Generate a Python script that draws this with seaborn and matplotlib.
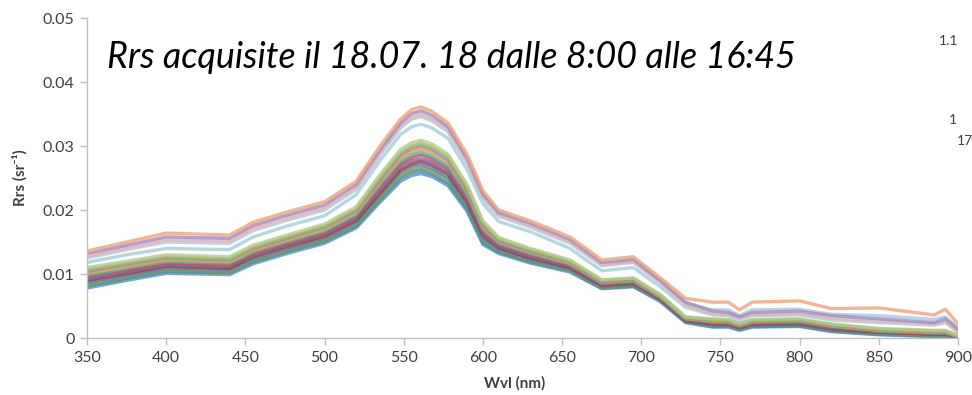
import numpy as np
import pandas as pd
import matplotlib
matplotlib.use("Agg")
import matplotlib.pyplot as plt
import seaborn as sns

# ---- data (Rrs in units of 1e-4 sr^-1) ----
wavelength = [350, 375, 400, 440, 455, 475, 500, 520, 535, 548, 555, 561, 568, 578, 590, 600, 610,
              630, 655, 675, 695, 712, 728, 745, 755, 762, 770, 800, 820, 850, 885, 892, 900]

lower_1 = [110, 120, 130, 127, 145, 160, 178, 205, 255, 295, 305, 309, 303, 287, 240, 183, 157, 140, 122, 91, 94, 68, 33, 30, 29, 23, 29, 30, 22, 15, 12, 12, 4]
lower_2 = [107, 117, 127, 124, 142, 157, 175, 202, 251, 290, 300, 304, 298, 283, 236, 180, 155, 138, 120, 90, 93, 67, 32, 29, 28, 22, 28, 29, 21, 14, 11, 11, 4]
lower_3 = [104, 115, 125, 122, 140, 155, 173, 199, 247, 286, 296, 300, 294, 278, 232, 176, 152, 136, 119, 88, 91, 66, 31, 28, 27, 21, 27, 28, 20, 13, 10, 10, 3]
lower_4 = [101, 112, 122, 119, 137, 152, 170, 196, 243, 281, 291, 295, 289, 274, 229, 173, 150, 134, 117, 87, 90, 65, 31, 26, 26, 20, 26, 27, 19, 12, 9, 9, 3]
lower_5 = [98, 109, 120, 117, 135, 150, 167, 193, 240, 277, 287, 290, 284, 269, 225, 170, 148, 132, 115, 86, 89, 64, 30, 25, 25, 19, 25, 26, 18, 11, 8, 8, 2]
lower_6 = [96, 106, 117, 114, 132, 147, 164, 190, 236, 272, 282, 286, 280, 265, 221, 166, 146, 130, 113, 85, 88, 63, 29, 24, 24, 18, 24, 25, 17, 10, 7, 7, 2]
lower_7 = [93, 104, 114, 112, 129, 144, 162, 187, 231, 268, 277, 280, 275, 260, 217, 163, 143, 127, 112, 83, 86, 62, 28, 23, 22, 17, 22, 23, 15, 10, 7, 7, 2]
lower_8 = [90, 101, 112, 109, 127, 142, 159, 184, 227, 263, 272, 276, 270, 256, 213, 160, 141, 125, 110, 82, 85, 61, 27, 22, 21, 16, 21, 22, 14, 9, 6, 6, 1]
lower_9 = [87, 98, 109, 107, 124, 139, 156, 181, 224, 259, 268, 271, 265, 251, 209, 156, 139, 123, 108, 81, 84, 60, 26, 20, 20, 15, 20, 21, 13, 8, 5, 5, 1]
lower_10 = [84, 96, 106, 104, 121, 136, 153, 178, 220, 254, 263, 266, 261, 247, 206, 153, 137, 121, 106, 79, 82, 59, 26, 19, 19, 14, 19, 20, 12, 7, 4, 4, 1]
lower_11 = [81, 93, 104, 102, 119, 134, 151, 175, 216, 250, 259, 262, 256, 242, 202, 149, 134, 119, 105, 78, 81, 58, 25, 18, 18, 13, 18, 19, 11, 6, 3, 3, 0]
lower_12 = [78, 90, 101, 99, 116, 131, 148, 172, 212, 245, 254, 257, 252, 238, 198, 146, 132, 117, 103, 77, 80, 57, 24, 17, 17, 12, 17, 18, 10, 5, 2, 2, 0]

upper_teal = [118, 130, 140, 138, 158, 174, 191, 224, 277, 318, 330, 334, 328, 312, 263, 210, 182, 166, 140, 105, 110, 80, 48, 36, 35, 28, 35, 36, 28, 24, 20, 24, 9]
upper_lightblue = [125, 138, 150, 148, 168, 183, 200, 232, 286, 328, 342, 346, 339, 322, 273, 218, 190, 173, 148, 113, 118, 86, 54, 44, 44, 35, 44, 45, 37, 35, 29, 33, 16]
upper_pink = [128, 141, 154, 152, 172, 187, 204, 236, 290, 332, 346, 350, 343, 326, 277, 222, 193, 176, 151, 115, 120, 88, 52, 38, 37, 30, 37, 38, 31, 27, 22, 26, 10]
upper_purple = [132, 145, 158, 156, 176, 191, 208, 240, 294, 336, 351, 355, 348, 330, 281, 225, 196, 179, 154, 118, 123, 90, 56, 42, 40, 33, 40, 42, 35, 30, 24, 30, 14]
upper_orange = [136, 150, 164, 161, 181, 196, 213, 245, 300, 342, 357, 361, 354, 336, 287, 230, 200, 183, 158, 122, 127, 94, 62, 56, 56, 44, 56, 58, 46, 47, 36, 45, 22]

series_names = ["lower_12", "lower_11", "lower_10", "lower_9", "lower_8", "lower_7", "lower_6",
                "lower_5", "lower_4", "lower_3", "lower_2", "lower_1",
                "upper_teal", "upper_lightblue", "upper_pink", "upper_purple", "upper_orange"]
series_values = [lower_12, lower_11, lower_10, lower_9, lower_8, lower_7, lower_6,
                 lower_5, lower_4, lower_3, lower_2, lower_1,
                 upper_teal, upper_lightblue, upper_pink, upper_purple, upper_orange]
series_colors = ["#5B8CC6", "#3E8FA0", "#7E9D40", "#4F81BD", "#9F3B38", "#8064A2", "#C0504D",
                 "#4BACC6", "#E9A33A", "#9983B5", "#9BBB59", "#B5CC85",
                 "#A3CFD9", "#AFC6E0", "#E8B0A8", "#9C8CC6", "#F2A27A"]

x_ticks = [350, 400, 450, 500, 550, 600, 650, 700, 750, 800, 850, 900]
y_ticks = [0, 0.01, 0.02, 0.03, 0.04, 0.05]
y_tick_labels = ["0", "0.01", "0.02", "0.03", "0.04", "0.05"]
title_text = "Rrs acquisite il 18.07. 18 dalle 8:00 alle 16:45"

# ---- long table ----
rows = []
for name, vals in zip(series_names, series_values):
    for w, v in zip(wavelength, vals):
        rows.append({"wvl": w, "rrs": v / 1e4, "series": name})
df = pd.DataFrame(rows)

sns.set_style("white")
plt.rcParams["font.family"] = ["Lato", "DejaVu Sans"]

fig = plt.figure(figsize=(9.72, 3.95), dpi=100)
ax = fig.add_axes([87 / 972, 1 - 338 / 395, (958 - 87) / 972, (338 - 18) / 395])

sns.lineplot(data=df, x="wvl", y="rrs", hue="series", hue_order=series_names,
             palette=dict(zip(series_names, series_colors)), legend=False,
             linewidth=2.4, alpha=0.8, estimator=None, ax=ax)
for line in ax.lines:
    line.set_solid_joinstyle("round")

ax.set_xlim(350, 900)
ax.set_ylim(0, 0.05)
ax.set_xticks(x_ticks)
ax.set_yticks(y_ticks)
ax.set_yticklabels(y_tick_labels)
ax.set_xlabel("")
ax.set_ylabel("")
ax.tick_params(axis="both", direction="out", length=5, width=1, color="#BFBFBF",
               labelcolor="#404040", labelsize=11.5, pad=4,
               bottom=True, left=True)
for s in ["top", "right"]:
    ax.spines[s].set_visible(False)
for s in ["left", "bottom"]:
    ax.spines[s].set_color("#BFBFBF")
    ax.spines[s].set_linewidth(1)

fig.text(515 / 972, 1 - 383 / 395, "Wvl (nm)", ha="center", va="center",
         fontsize=11, fontweight="bold", color="#404040")
fig.text(20 / 972, 1 - 178 / 395, "Rrs (sr\u207b\u00b9)", ha="center", va="center",
         rotation=90, fontsize=11, fontweight="bold", color="#404040")

fig.text(107 / 972, 1 - 58 / 395, title_text, ha="left", va="center",
         fontsize=25.8, fontstyle="italic", color="black")

fig.text(949 / 972, 1 - 41 / 395, "1.1", ha="center", va="center", fontsize=10, color="#404040")
fig.text(953 / 972, 1 - 120 / 395, "1", ha="center", va="center", fontsize=10, color="#404040")
fig.text(957 / 972, 1 - 141 / 395, "17", ha="left", va="center", fontsize=10, color="#404040")

fig.savefig("out.png", dpi=100)
